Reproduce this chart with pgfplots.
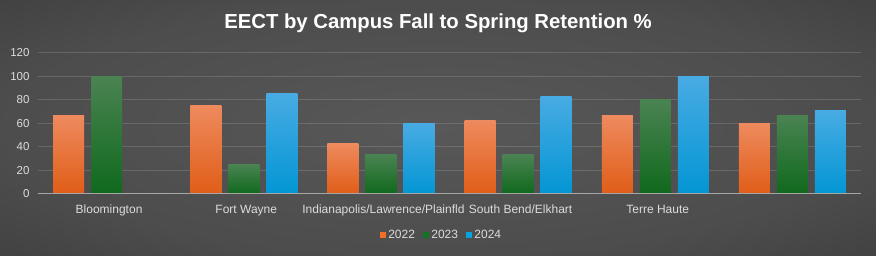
\documentclass[border=0pt]{standalone}
\usepackage{fontspec}
\setmainfont{Liberation Sans}
\usepackage{pgfplots}
\pgfplotsset{compat=1.18}
\definecolor{or1}{HTML}{EE8A5E}
\definecolor{or2}{HTML}{F16E26}
\definecolor{or3}{HTML}{E05D17}
\definecolor{gr1}{HTML}{4A8352}
\definecolor{gr2}{HTML}{127321}
\definecolor{gr3}{HTML}{0F691C}
\definecolor{bl1}{HTML}{48ABE3}
\definecolor{bl2}{HTML}{05A3E0}
\definecolor{bl3}{HTML}{0396D4}
\definecolor{lbl}{HTML}{DCDCDC}
\pgfdeclareradialshading{bgshade}{\pgfpoint{0bp}{0bp}}{rgb(0bp)=(0.345,0.345,0.345); rgb(25bp)=(0.3,0.3,0.3); rgb(50bp)=(0.2,0.2,0.2); rgb(71bp)=(0.14,0.14,0.14)}
\pgfplotsset{
  bara/.style={ybar, bar width=31pt, bar shift=-38pt, draw=none, forget plot, top color=or1, middle color=or2, bottom color=or3},
  barb/.style={ybar, bar width=31pt, bar shift=0pt, draw=none, forget plot, top color=gr1, middle color=gr2, bottom color=gr3},
  barc/.style={ybar, bar width=31pt, bar shift=38pt, draw=none, forget plot, top color=bl1, middle color=bl2, bottom color=bl3},
}
\begin{document}
\begin{tikzpicture}[x=1pt,y=1pt]
\shade[shading=bgshade] (0,0) rectangle (876,256);
\node[text=white, font=\bfseries\fontsize{20.3}{24}\selectfont] at (438,233) {EECT by Campus Fall to Spring Retention \%};
\begin{axis}[
  at={(38pt,62pt)}, anchor=south west,
  scale only axis, width=823pt, height=141pt,
  xmin=-0.5, xmax=5.5, ymin=0, ymax=120,
  xtick={0,1,2,3,4},
  xticklabels={Bloomington, Fort Wayne, Indianapolis/Lawrence/Plainfld, South Bend/Elkhart, Terre Haute},
  ytick={0,20,...,120},
  axis line style={draw=none},
  major tick length=0pt,
  ymajorgrids, grid style={white, opacity=0.14, line width=1pt},
  /pgf/number format/assume math mode=true,
  yticklabel style={text=lbl, font=\fontsize{11.5}{13}\selectfont, xshift=-5pt},
  xticklabel style={text=lbl, font=\fontsize{12}{14}\selectfont, anchor=base, yshift=-19.5pt, xshift=2.5pt},
  legend style={at={(0.5,-0.29)}, anchor=center, xshift=-8pt, draw=none, fill=none, text=lbl,
    font=\fontsize{12}{14}\selectfont, legend columns=3,
    /tikz/every even column/.append style={column sep=6pt}},
  legend image code/.code={\path[#1] (0pt,-3.2pt) rectangle (6.4pt,3.2pt);},
]
% 2022
\addplot[bara] coordinates {(0,66.7)};
\addplot[bara] coordinates {(1,75)};
\addplot[bara] coordinates {(2,42.9)};
\addplot[bara] coordinates {(3,62.5)};
\addplot[bara] coordinates {(4,66.7)};
\addplot[bara] coordinates {(5,60)};
% 2023
\addplot[barb] coordinates {(0,100)};
\addplot[barb] coordinates {(1,25)};
\addplot[barb] coordinates {(2,33.3)};
\addplot[barb] coordinates {(3,33.3)};
\addplot[barb] coordinates {(4,80)};
\addplot[barb] coordinates {(5,66.7)};
% 2024
\addplot[barc] coordinates {(1,85.7)};
\addplot[barc] coordinates {(2,60)};
\addplot[barc] coordinates {(3,83.3)};
\addplot[barc] coordinates {(4,100)};
\addplot[barc] coordinates {(5,71.4)};
\addlegendimage{fill=or2, draw=none}
\addlegendentry{2022}
\addlegendimage{fill=gr2, draw=none}
\addlegendentry{2023}
\addlegendimage{fill=bl2, draw=none}
\addlegendentry{2024}
\draw[line width=1.6pt, color=black!35] (rel axis cs:0,0) -- (rel axis cs:1,0);
\end{axis}
\end{tikzpicture}
\end{document}
